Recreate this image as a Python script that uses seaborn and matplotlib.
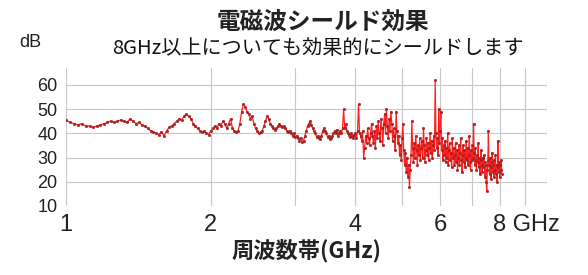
import numpy as np
import pandas as pd
import seaborn as sns
import matplotlib.pyplot as plt
from matplotlib.ticker import FixedLocator, FixedFormatter
from matplotlib.transforms import ScaledTranslation

# sweep: 1.00 GHz .. 8.06 GHz, 0.02 GHz step, one row of values per 0.2 GHz
freq_start = 1.0
freq_step = 0.02
shield_db = [
    45.5, 44.5, 44, 43.5, 44, 43, 43, 42.5, 43, 43.5,      # 1.0
    44, 44.5, 45, 44.5, 45, 45.5, 45, 44.5, 46, 45,        # 1.2
    44, 44.5, 43.5, 43, 42, 41, 40.5, 40, 39.5, 40.5,      # 1.4
    39, 41, 42.5, 43, 44, 45, 46, 45.5, 47, 48,            # 1.6
    47, 46, 44, 43, 42, 41, 40.5, 41, 40, 39.5,            # 1.8
    41, 42, 43, 42, 44, 43, 45, 44, 42, 44,                # 2.0
    46, 42, 41, 40.5, 41, 44, 49, 52, 51, 49,              # 2.2
    48, 46, 47, 44, 42, 41, 40, 40.5, 41, 43,              # 2.4
    45, 47, 46, 44, 43, 42, 41.5, 42, 43, 44,              # 2.6
    43, 42.5, 43, 42, 41, 40.5, 41, 40, 39, 40,            # 2.8
    38.5, 39, 38, 37, 38, 36.5, 37, 39, 41, 43,            # 3.0
    44, 45, 43.5, 42, 41, 40, 38.5, 39, 38, 37.5,          # 3.2
    39, 41, 42, 41, 40, 38.5, 39, 37.5, 38, 39,            # 3.4
    40, 41, 40, 41.5, 39, 40, 41, 40, 42, 50,              # 3.6
    42, 44, 41, 40, 39.5, 38.5, 40, 39, 38, 39.5,          # 3.8
    40, 38, 41, 52, 40, 39, 37, 41, 30, 34,                # 4.0
    39, 36, 42, 38, 35, 40, 44, 39, 36, 41,                # 4.2
    34, 43, 38, 45, 40, 37, 46, 42, 35, 44,                # 4.4
    48, 40, 50, 43, 38, 46, 41, 49, 44, 37,                # 4.6
    42, 39, 33, 49, 41, 36, 39, 31, 35, 29,                # 4.8
    38, 44, 33, 27, 32, 24, 30, 22, 27, 18,                # 5.0
    25, 31, 45, 34, 28, 36, 30, 39, 33, 27,                # 5.2
    35, 31, 38, 29, 34, 37, 30, 42, 35, 28,                # 5.4
    33, 38, 31, 36, 29, 34, 40, 32, 37, 30,                # 5.6
    35, 39, 33, 62, 40, 34, 38, 31, 50, 36,                # 5.8
    41, 49, 33, 38, 29, 35, 31, 37, 28, 34,                # 6.0
    30, 40, 27, 33, 36, 29, 32, 26, 38, 30,                # 6.2
    34, 27, 31, 36, 28, 33, 25, 30, 35, 27,                # 6.4
    32, 38, 29, 24, 31, 35, 28, 33, 26, 30,                # 6.6
    37, 29, 34, 27, 31, 39, 28, 25, 33, 29,                # 6.8
    35, 30, 44, 32, 27, 34, 29, 25, 31, 28,                # 7.0
    36, 26, 30, 23, 29, 33, 27, 24, 30, 26,                # 7.2
    31, 28, 22, 27, 20, 16, 25, 29, 41, 27,                # 7.4
    23, 30, 26, 21, 28, 32, 24, 27, 22, 29,                # 7.6
    25, 31, 23, 27, 20, 26, 37, 24, 28, 22,                # 7.8
    27, 25, 29, 23,                                        # 8.0
]
grid_ghz = [1, 2, 3, 4, 5, 6, 7, 8, 9, 10]
tick_text = ['1', '2', '', '4', '', '6', '', '8 GHz', '', '']
y_ticks = [10, 20, 30, 40, 50, 60]

df = pd.DataFrame({'db': shield_db})
df['freq'] = freq_start + freq_step * np.arange(len(df))

sns.set_theme(style='whitegrid')
plt.rcParams['font.family'] = ['Noto Sans CJK JP', 'DejaVu Sans']

fig = plt.figure(figsize=(5.88, 2.75), dpi=100)
ax = fig.add_axes([0.112, 0.251, 0.818, 0.502])

sns.lineplot(data=df, x='freq', y='db', ax=ax, color='#ff2020', linewidth=0.9,
             marker='o', markersize=2.0, markerfacecolor='#a82020',
             markeredgecolor='#a82020', markeredgewidth=0.2)

ax.set_xscale('log')
ax.set_xlim(1, 10)
ax.set_ylim(10, 67)
ax.xaxis.set_major_locator(FixedLocator(grid_ghz))
ax.xaxis.set_major_formatter(FixedFormatter(tick_text))
ax.xaxis.set_minor_locator(FixedLocator([]))
ax.set_yticks(y_ticks)
ax.grid(True, color='#c8c8c8', linewidth=0.8)
for s in ax.spines.values():
    s.set_visible(False)

ax.tick_params(axis='x', labelsize=17, pad=6, length=0, colors='#222222')
ax.tick_params(axis='y', labelsize=13, pad=6, length=0, colors='#222222')
for lab in ax.get_xticklabels():
    lab.set_fontfamily(['Liberation Sans'])
    if lab.get_text().startswith('8'):
        lab.set_horizontalalignment('left')
        lab.set_transform(lab.get_transform() + ScaledTranslation(-5 / 72, 0, fig.dpi_scale_trans))
for lab in ax.get_yticklabels():
    lab.set_fontfamily(['Liberation Sans'])

ax.set_xlabel('周波数帯(GHz)', fontsize=16, fontweight='bold', labelpad=2, color='#222222')
ax.set_ylabel('')

fig.text(0.549, 0.92, '電磁波シールド効果', ha='center', va='center',
         fontsize=17, fontweight='bold', color='#222222')
fig.text(0.541, 0.825, '8GHz以上についても効果的にシールドします', ha='center', va='center',
         fontsize=14.5, color='#111111')
fig.text(0.051, 0.844, 'dB', ha='center', va='center', fontsize=13,
         family=['Liberation Sans'], color='#222222')

plt.savefig('out.png', dpi=100, facecolor='white')
